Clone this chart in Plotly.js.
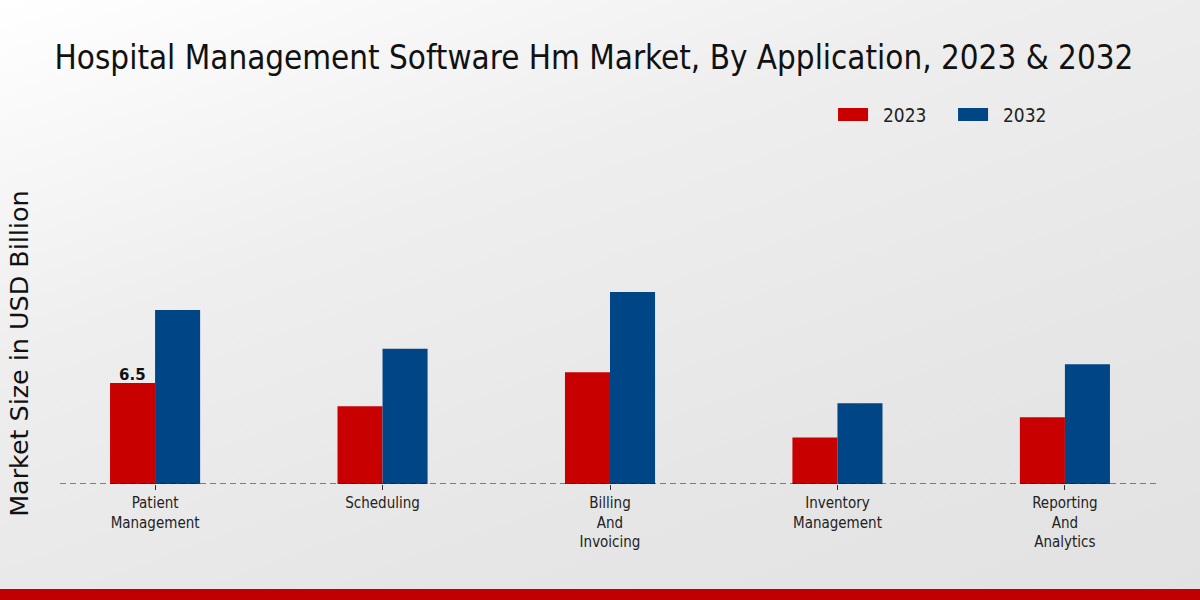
<!DOCTYPE html>
<html><head><meta charset="utf-8">
<script src="https://cdn.plot.ly/plotly-3.0.1.min.js"></script>
<style>
html,body{margin:0;padding:0;width:1200px;height:600px;overflow:hidden;}
body{background:linear-gradient(160deg,#ffffff 0%,#eeeeee 35%,#e6e6e6 70%,#e2e2e2 100%);}
#chart{position:absolute;left:0;top:0;width:1200px;height:600px;}
#bar{position:absolute;left:0;top:589px;width:1200px;height:11px;background:#c00000;}
</style></head>
<body>
<div id="chart"></div>
<div id="bar"></div>
<script>
const categories = ["Patient<br>Management","Scheduling","Billing<br>And<br>Invoicing","Inventory<br>Management","Reporting<br>And<br>Analytics"];
const values2023 = [6.5, 5.0, 7.2, 3.0, 4.3];
const values2032 = [11.2, 8.7, 12.35, 5.2, 7.7];
const seriesNames = ["2023","2032"];
const seriesColors = ["#c80000","#004586"];

const cond = "DejaVu Sans Condensed, DejaVu Sans, sans-serif";
const data = [
  {type:"bar", name:seriesNames[0], x:categories, y:values2023, marker:{color:seriesColors[0]}},
  {type:"bar", name:seriesNames[1], x:categories, y:values2032, marker:{color:seriesColors[1]}}
];
// custom legend (wide swatches like the reference)
const legX = [0.7073, 0.8164]; // paper x of swatch left edges
const legShapes = seriesNames.map((n,i)=>({type:"rect", xref:"paper", yref:"paper",
  x0:legX[i], x1:legX[i]+0.0273, y0:1.0552, y1:1.0930, fillcolor:seriesColors[i], line:{width:0}}));
const legAnn = seriesNames.map((n,i)=>({xref:"paper", yref:"paper", x:legX[i]+0.0395, y:1.0741,
  xanchor:"left", yanchor:"middle", text:n, showarrow:false, font:{family:cond, size:19, color:"#222"}}));

const layout = {
  width:1200, height:600,
  paper_bgcolor:"rgba(0,0,0,0)", plot_bgcolor:"rgba(0,0,0,0)",
  margin:{l:60, r:40, t:140, b:116},
  barmode:"group", bargap:0.604, bargroupgap:0,
  title:{text:"Hospital Management Software Hm Market, By Application, 2023 & 2032",
         font:{family:cond, size:32.9, color:"#111"}, x:0.495, xanchor:"center", y:0.905, yanchor:"middle"},
  showlegend:false,
  xaxis:{range:[-0.418,4.418], showgrid:false, zeroline:false, showline:false,
         ticks:"outside", ticklen:5, tickcolor:"#333", tickfont:{family:cond, size:15, color:"#222"}},
  yaxis:{range:[0,22.14], showgrid:false, zeroline:false, showline:false, showticklabels:false, ticks:""},
  shapes:[{type:"line", xref:"paper", yref:"y", x0:0, x1:1, y0:0, y1:0, line:{color:"#111", width:1, dash:"6px,4px"}}].concat(legShapes),
  annotations:[
    {x:categories[0], y:values2023[0], xshift:-22.5, text:"<b>"+values2023[0]+"</b>", showarrow:false,
     yanchor:"bottom", yshift:-3, font:{family:"DejaVu Sans, sans-serif", size:15, color:"#111"}},
    {xref:"paper", yref:"paper", x:-0.038, y:0.379, xanchor:"center", yanchor:"middle", textangle:-90,
     text:"Market Size in USD Billion", showarrow:false, font:{family:"DejaVu Sans, sans-serif", size:25.4, color:"#111"}}
  ].concat(legAnn)
};
Plotly.newPlot("chart", data, layout, {displayModeBar:false, staticPlot:true});
</script>
</body></html>
